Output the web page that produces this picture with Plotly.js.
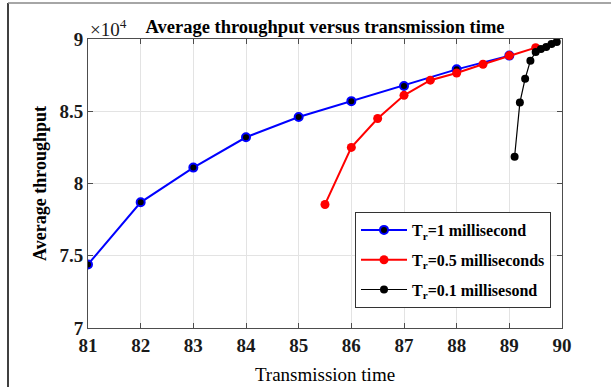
<!DOCTYPE html>
<html>
<head>
<meta charset="utf-8">
<script src="https://cdn.plot.ly/plotly-3.0.1.min.js"></script>
<style>
html,body{margin:0;padding:0;background:#fff;}
#chart{width:611px;height:387px;}
</style>
</head>
<body>
<div id="chart"></div>
<script>
// Data (throughput values in absolute units)
const x1 = [81, 82, 83, 84, 85, 86, 87, 88, 89];
const y1 = [74400, 78700, 81100, 83200, 84600, 85700, 86750, 87900, 88850];
const x05 = [85.5, 86, 86.5, 87, 87.5, 88, 88.5, 89, 89.5];
const y05 = [78550, 82500, 84500, 86100, 87150, 87650, 88250, 88850, 89400];
const x01 = [89.1, 89.2, 89.3, 89.4, 89.5, 89.6, 89.7, 89.8, 89.9];
const y01 = [81850, 85600, 87250, 88500, 89100, 89300, 89450, 89650, 89800];
const xTicks = [81, 82, 83, 84, 85, 86, 87, 88, 89, 90];
const yTickVals = [70000, 75000, 80000, 85000, 90000];
const yTickText = ['7', '7.5', '8', '8.5', '9'];
const names = ['T<sub>r</sub>=1 millisecond', 'T<sub>r</sub>=0.5 milliseconds', 'T<sub>r</sub>=0.1 millisesond'];

const FONT = 'Liberation Serif';
const W = 611, H = 387;
const M = {l: 88, r: 49, t: 39, b: 59};
const pw = W - M.l - M.r, ph = H - M.t - M.b;
const px2x = p => (p - M.l) / pw;
const py2y = p => 1 - (p - M.t) / ph;

const traces = [
  {x: x1, y: y1, name: names[0], legendgroup: 'g1', mode: 'lines+markers', type: 'scatter',
   line: {color: '#0000ff', width: 2},
   marker: {color: '#000000', size: 8, line: {color: '#0000ff', width: 2}}},
  {x: x05, y: y05, name: names[1], legendgroup: 'g2', mode: 'lines+markers', type: 'scatter',
   line: {color: '#ff0000', width: 2},
   marker: {color: '#ff0000', size: 9}},
  {x: x01, y: y01, name: names[2], legendgroup: 'g3', mode: 'lines+markers', type: 'scatter',
   line: {color: '#000000', width: 1.2},
   marker: {color: '#000000', size: 8}}
];

const axisCommon = {
  showline: true, mirror: 'ticks', linecolor: '#4d4d4d', linewidth: 1,
  ticks: 'inside', ticklen: 5, tickcolor: '#4d4d4d',
  showgrid: true, gridcolor: '#e3e3e3', gridwidth: 1, zeroline: false,
  tickfont: {family: FONT, size: 19, color: '#1a1a1a', weight: 700}
};

const layout = {
  width: W, height: H,
  margin: M,
  font: {family: FONT, color: '#000'},
  paper_bgcolor: '#ffffff', plot_bgcolor: '#ffffff',
  showlegend: true,
  title: {text: 'Average throughput versus transmission time',
          font: {family: FONT, size: 18.5, color: '#000', weight: 700},
          x: 0.5, xref: 'paper', xanchor: 'center', y: 1 - 27 / H, yanchor: 'middle'},
  xaxis: Object.assign({}, axisCommon, {
    range: [81, 90], tickvals: xTicks,
    title: {text: 'Transmission time', font: {family: FONT, size: 19, color: '#000'}, standoff: 12}
  }),
  yaxis: Object.assign({}, axisCommon, {
    range: [70000, 90000], tickvals: yTickVals, ticktext: yTickText,
    title: {text: 'Average throughput', font: {family: FONT, size: 18, color: '#000', weight: 700}, standoff: 8}
  }),
  legend: {
    x: px2x(355), y: py2y(212), xanchor: 'left', yanchor: 'top',
    bgcolor: '#ffffff', bordercolor: '#333333', borderwidth: 1,
    font: {family: FONT, size: 16, color: '#000', weight: 700},
    tracegroupgap: 6, itemwidth: 46
  },
  annotations: [
    {text: '×10<sup>4</sup>', xref: 'paper', yref: 'paper', x: px2x(88), y: py2y(42),
     xanchor: 'left', yanchor: 'bottom', showarrow: false,
     font: {family: FONT, size: 19, color: '#1a1a1a'}}
  ],
  shapes: [
    {type: 'line', xref: 'paper', yref: 'paper', x0: px2x(8), x1: px2x(8), y0: py2y(3), y1: py2y(H),
     line: {color: '#000', width: 1.5}},
    {type: 'line', xref: 'paper', yref: 'paper', x0: px2x(8), x1: px2x(W), y0: py2y(3), y1: py2y(3),
     line: {color: '#888', width: 1.5}}
  ]
};

Plotly.newPlot('chart', traces, layout, {displayModeBar: false, staticPlot: true});
</script>
</body>
</html>
